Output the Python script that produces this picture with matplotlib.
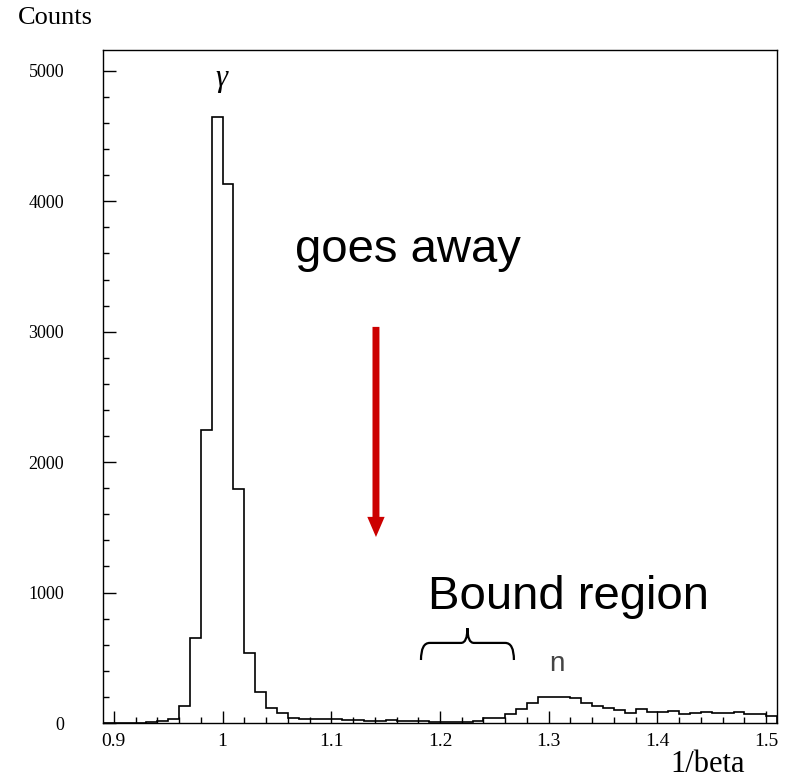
import numpy as np
import matplotlib
matplotlib.use("Agg")
import matplotlib.pyplot as plt
from matplotlib.path import Path
from matplotlib.patches import PathPatch, FancyArrowPatch

# histogram of 1/beta, bins of 0.01 starting at 0.89
bin_start = 0.89
bin_width = 0.01
counts = [
    0, 0, 2, 3, 5, 12, 28, 130, 655, 2245,          # 0.89 - 0.98
    4650, 4135, 1795, 540, 240, 113, 76, 38, 30, 30,  # 0.99 - 1.08
    28, 28, 20, 20, 18, 15, 22, 18, 18, 15,           # 1.09 - 1.18
    10, 8, 6, 6, 12, 35, 40, 70, 105, 150,            # 1.19 - 1.28
    197, 202, 198, 195, 150, 133, 118, 100, 79, 107,  # 1.29 - 1.38
    87, 84, 94, 69, 74, 82, 74, 74, 82, 69,           # 1.39 - 1.48
    69, 56,                                           # 1.49 - 1.50
]
edges = np.round(bin_start + bin_width * np.arange(len(counts) + 1), 3)

x_ticks = [0.9, 1.0, 1.1, 1.2, 1.3, 1.4, 1.5]
x_labels = ["0.9", "1", "1.1", "1.2", "1.3", "1.4", "1.5"]
y_ticks = [0, 1000, 2000, 3000, 4000, 5000]

fig = plt.figure(figsize=(7.85, 7.78), dpi=100)
ax = fig.add_axes([103 / 785, 1 - 723 / 778, 674 / 785, 673 / 778])

ax.stairs(counts, edges, color="black", lw=1.2, baseline=0)

ax.set_xlim(0.89, 1.51)
ax.set_ylim(0, 5160)

ax.set_xticks(x_ticks)
ax.set_xticklabels(x_labels)
ax.set_xticks(np.arange(0.9, 1.51, 0.02), minor=True)
ax.set_yticks(y_ticks)
ax.set_yticks(np.arange(0, 5001, 200), minor=True)

ax.tick_params(which="both", direction="in", top=False, right=False, width=1.0)
ax.tick_params(axis="x", which="major", length=9, pad=7)
ax.tick_params(axis="x", which="minor", length=4.5)
ax.tick_params(axis="y", which="major", length=9.5, pad=28)
ax.tick_params(axis="y", which="minor", length=4.5)
for lab in ax.get_xticklabels():
    lab.set_fontfamily("Liberation Serif")
    lab.set_fontsize(14)
for lab in ax.get_yticklabels():
    lab.set_fontfamily("Liberation Serif")
    lab.set_fontsize(13)
for sp in ax.spines.values():
    sp.set_linewidth(1.0)

fig.text(18 / 785, 1 - 18 / 778, "Counts", family="Liberation Serif",
         fontsize=19, va="center", ha="left")
fig.text(745 / 785, 1 - 765 / 778, "1/beta", family="Liberation Serif",
         fontsize=22, va="center", ha="right")

# annotations
ax.text(0.9988, 4940, "γ", family="Liberation Serif", style="italic",
        fontsize=22, ha="center", va="center")
ax.text(1.3073, 455, "n", family="Liberation Sans", fontsize=20,
        color="#444444", ha="center", va="center")
ax.text(1.1705, 3625, "goes away", family="Liberation Sans", fontsize=34,
        ha="center", va="center")
ax.text(1.3184, 965, "Bound region", family="Liberation Sans", fontsize=34,
        ha="center", va="center")

arrow = FancyArrowPatch((1.1411, 3037), (1.1411, 1426),
                        arrowstyle="simple,head_length=0.58,head_width=0.5,tail_width=0.2",
                        mutation_scale=25, color="#cc0000", lw=0,
                        shrinkA=0, shrinkB=0)
ax.add_patch(arrow)

# curly brace over the bound region
x0, x1 = 1.1825, 1.268
xm = (x0 + x1) / 2
ybot, ymid, ytip = 483, 614, 727
verts = [
    (x0, ybot), (x0, ymid), (x0 + 0.008, ymid),
    (xm - 0.006, ymid),
    (xm, ymid), (xm, ytip),
    (xm, ymid), (xm + 0.006, ymid),
    (x1 - 0.008, ymid),
    (x1, ymid), (x1, ybot),
]
codes = [Path.MOVETO, Path.CURVE3, Path.CURVE3,
         Path.LINETO,
         Path.CURVE3, Path.CURVE3,
         Path.CURVE3, Path.CURVE3,
         Path.LINETO,
         Path.CURVE3, Path.CURVE3]
ax.add_patch(PathPatch(Path(verts, codes), fill=False, lw=1.6, color="black"))

fig.savefig("out.png", dpi=100)
